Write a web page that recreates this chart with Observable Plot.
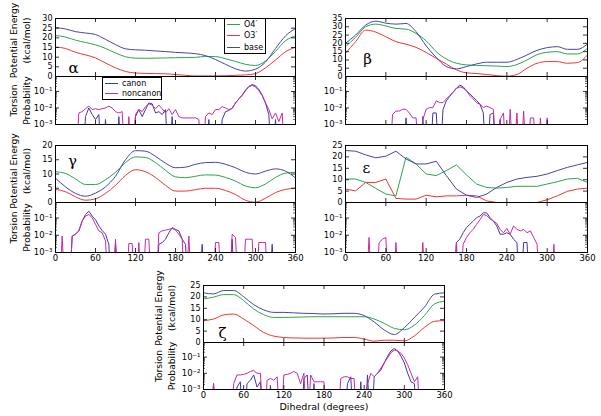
<!DOCTYPE html>
<html><head><meta charset="utf-8">
<script src="https://cdn.jsdelivr.net/npm/d3@7"></script>
<script src="https://cdn.jsdelivr.net/npm/@observablehq/plot@0.6"></script>
<style>
body{margin:0;background:#fff}
#chart{position:relative;width:601px;height:416px;overflow:hidden;font-family:"DejaVu Sans",sans-serif}
#chart svg{position:absolute;left:0;top:0}
</style></head><body><div id="chart"></div>
<script>
// ---------- data ----------
const xTicks = [0, 60, 120, 180, 240, 300, 360];
const energyDeg = [0,15,30,45,60,75,90,105,120,135,150,165,180,195,210,225,240,255,270,285,300,315,330,345,360];
const probDeg = d3.range(0, 361, 5);
const probTicks = [0.001, 0.01, 0.1];
const probTickLabels = ["10\u207B\u00B3", "10\u207B\u00B2", "10\u207B\u00B9"];
const energySeries = ["O4\u2032", "O3\u2032", "base"];
const energyColors = ["#2aa64a", "#ee3535", "#4545aa"];
const probSeries = ["canon", "noncanon"];
const probColors = ["#3a3ab0", "#cc2aa2"];

const alphaETicks = [0,5,10,15,20,25,30];
const betaETicks = [0,5,10,15,20,25,30,35];
const gammaETicks = [0,5,10,15,20];
const epsETicks = [0,5,10,15,20,25];
const zetaETicks = [0,5,10,15,20,25];

const alphaO4 = [21.2,20.4,18.8,17.6,16.4,14.5,12.2,10.2,9.5,9.4,9.5,9.6,9.7,9.8,9.9,10.4,10.3,9.2,7.8,6.3,5.7,8,13,18.5,21];
const alphaO3 = [15.3,14.5,12.5,11.2,9.6,7,4.5,2.6,1.8,1.6,1.5,1.4,1,0.6,0.3,0.3,0.3,0.4,0.6,0.8,1.5,4.5,8.5,12.8,15.1];
const alphaBase = [25.3,24.6,23.2,22.5,21.7,19.2,16.5,14.3,13.8,13.6,13.2,12.9,12.5,12.2,11.8,10.8,8.8,6.3,4,2.8,3.8,7.5,14.5,21,24.8];

const betaO4 = [18,23.6,30,31.6,30.5,29,28.6,26,21.5,15,10.5,8,7,6.7,6.5,6.3,6,7.2,10,13.2,14.6,15,13.6,13.6,17];
const betaO3 = [14,21,28,26.8,24,21,19.5,17.6,14.5,11,7.5,4,2.2,1.8,1.2,0.5,0.2,1.2,5,8,9,9,8,8.4,13];
const betaBase = [20,25,31,33.4,32.2,31.6,32,27,18.5,11.5,6,4.6,6,7.6,8.6,8.6,8.6,10.3,13,15.8,17.4,18,16.4,16.4,19.6];

const gammaO4 = [10.8,10.2,8.3,6.3,6.3,8,10.6,14,16,15.8,14,11.3,9,8.7,9.2,9.7,9.6,8.8,7.5,5.8,5.2,6.5,8.8,10.3,10.6];
const gammaO3 = [4.6,3.8,2,0.8,1.3,3.2,6,9.5,11.5,10.8,8.8,6,4,4,4.5,5,5,4.2,2.8,0.8,0.1,1.5,3.5,4.6,5];
const gammaBase = [8.5,5.5,3.2,2.2,3.3,5.5,9.2,15,18.2,18,16.2,13.8,12.2,12.4,13.4,14,14.1,13.4,12.2,10.6,10,11,11.8,11,8.6];

const epsO4 = [10.3,10.3,8.8,6.2,3.7,2.9,19.9,16.9,12.5,11.8,14,16.5,12.1,8.1,6.6,6.3,6.6,7.1,7.1,7.1,8.1,9.1,10.3,10.6,8.8];
const epsO3 = [5.9,5.1,8.8,8.8,10.3,1.8,1.5,1.5,3.2,2.5,2.9,2.9,3.2,2.9,0.7,0,0,0,0,0,1.2,2.9,4.9,5.9,6.3];
const epsBase = [22.8,22.5,20.9,19.6,20.3,22.5,19.1,16.9,16.9,18.1,11.8,5.9,3.2,2.2,3.7,6.6,8.8,10.3,11,11.5,12.5,14,15.4,16.5,17.6];

const zetaO4 = [19.1,19.9,21,21,18.4,14.7,12.2,11,11,11.1,11.2,11.3,11.3,11.3,11.3,11.3,11.3,10.3,8.4,6.2,5.6,7.6,11.8,16.9,18.1];
const zetaO3 = [9.6,10.3,12.1,12.5,10.3,7.4,4.4,2.8,2.2,2,1.9,1.9,1.9,2,2.2,2.2,1.5,0.6,1,1,0.7,2.9,6.6,9.3,9.6];
const zetaBase = [21.8,21.3,22.8,22.8,20.1,16.6,14.3,13.2,13.2,13,12.8,12.7,12.5,12.6,12.8,12.8,11.8,9,5.5,3.5,6.5,11,15.5,21.2,21.8];

const alphaCanon = [0,0,0,0,0,0,0,0,0,.003,.01,.004,
 .002,.004,0,.002,0,0,0,.003,0,0,0,0,
 .003,.008,.003,.008,.02,.018,.005,.006,.004,.008,0,.003,
 0,0,0,0,0,0,0,0,0,0,.002,0,
 0,0,.002,.006,.007,.01,.02,.035,.06,.12,.2,.26,
 .22,.13,.06,.02,.004,0,.002,0,0,0,0,0,
 0];
const alphaNoncanon = [0,0,0,0,0,0,0,.005,.006,.009,.013,.008,
 .009,.008,.009,.01,.013,.01,.006,.005,.006,0,.003,0,
 .004,.008,.006,.012,.018,.015,.009,.015,.009,.005,.009,.004,
 .008,.003,.0025,.0025,.0025,.0025,.0025,.002,0,.003,.005,.004,
 .008,.008,.012,.01,.008,.009,.02,.035,.056,.11,.19,.23,
 .19,.11,.056,.02,.008,.0022,.005,.0015,.005,0,0,0,
 0];
const betaCanon = [0,0,0,0,0,0,0,0,0,0,0,0,
 0,0,0,0,0,0,.0025,0,0,0,0,.003,
 0,0,.005,.005,0,.008,.027,.05,.09,.16,.24,.19,
 .11,.07,.045,.028,.017,.005,0,.004,.005,0,.002,0,
 0,0,0,0,0,0,0,0,0,0,0,0,
 0,0,0,0,0,0,0,0,0,0,0,0,
 0];
const betaNoncanon = [0,0,0,0,0,0,0,0,0,0,0,0,
 0,0,.004,.0065,.0065,.0083,.0083,.005,.0025,.0025,0,.002,
 .0083,.0105,.0105,.027,.021,.021,.035,.056,.09,.15,.19,.16,
 .11,.056,.035,.021,.017,.0105,.013,.0105,.0083,0,.002,.005,
 0,.0083,0,.005,0,.0065,0,.0025,.0025,0,.0025,0,
 .0025,0,0,0,0,0,0,0,0,0,0,0,
 0];
const gammaCanon = [0,0,0,0,0,.009,.0115,.018,.067,.16,.25,.13,
 .08,.035,.019,.0115,.003,0,.003,0,0,0,0,0,
 0,0,0,0,0,0,0,.003,.0038,.0059,.014,.028,
 .022,.018,.0059,.003,0,0,0,0,.003,0,0,0,
 0,0,0,0,0,.0059,0,0,0,0,0,0,
 0,0,0,0,0,.003,0,0,0,0,0,0,
 0];
const gammaNoncanon = [0,0,.009,0,0,.009,.0115,.018,.067,.13,.16,.105,
 .043,.018,.014,.0047,0,0,.0059,0,0,0,.0033,.0033,
 0,.0038,0,.0059,.0059,0,0,.014,.018,.02,.022,.025,
 .02,.0115,.0059,0,.009,0,0,0,0,0,0,0,
 .0038,.0038,0,0,0,.0115,.0074,0,0,.0059,.0059,.0059,
 0,.0038,.0038,.0038,0,0,0,0,0,0,0,0,
 0];
const epsCanon = [0,0,0,0,0,0,0,0,0,0,0,0,
 0,0,0,0,0,0,0,0,0,0,0,0,
 0,0,0,0,0,0,0,0,0,.0038,.0059,.014,
 .028,.043,.067,.105,.13,.2,.2,.105,.067,.035,.0115,.0115,
 .014,.0115,.0059,.0038,0,.0038,.0038,0,0,0,0,0,
 0,0,0,0,0,0,0,0,0,0,0,0,
 0];
const epsNoncanon = [0,0,0,0,0,0,0,.0074,0,0,.0038,.0059,
 .0074,0,0,.0038,0,0,0,0,0,0,0,.0038,
 0,0,0,0,0,0,0,0,0,.0038,0,.003,
 .0074,.014,.022,.043,.08,.16,.14,.09,.065,.05,.022,.014,
 .025,.0115,.035,.022,.018,.022,.014,.018,.0074,.003,0,0,
 0,0,.003,0,0,0,0,0,0,0,0,0,
 0];
const zetaCanon = [0,0,0,.0023,0,0,0,0,0,0,.0014,.003,
 0,.0023,.0037,.0079,.0014,.003,0,0,.0018,0,0,0,
 0,0,0,0,0,0,.0048,.0079,0,.0023,0,0,
 0,0,0,0,0,0,0,.0023,.0061,0,0,.003,
 0,.0079,0,.0061,.01,.016,.044,.115,.24,.34,.24,.115,
 .044,.01,.003,.0023,0,0,0,0,0,0,0,0,
 0];
const zetaNoncanon = [0,0,0,.0023,0,0,0,0,0,.0023,.0079,.0079,
 .0085,.01,.013,.015,.01,.01,0,.0037,.0048,.0037,.0061,0,
 .0079,.0085,.01,.013,.01,.0023,.01,0,.0079,.003,.003,.003,
 .003,0,0,0,0,.0048,.0061,.0061,.0048,.0048,0,0,
 0,.0023,.01,.0061,.01,.021,.044,.09,.19,.27,.24,.17,
 .09,.034,.01,.003,.0061,0,0,0,0,0,0,0,
 0];

// ---------- layout ----------
const W = 601, H = 416;
const panels = [
  {greek:"\u03B1", x0:55, x1:295, eTop:18, eBot:76, pBot:124, eTicks:alphaETicks, E:[alphaO4,alphaO3,alphaBase], P:[alphaCanon,alphaNoncanon], curve:"monotone-x", labels:true, xLabels:false, gx:18, gy:50, lblDx:-35, lblDyE:-7},
  {greek:"\u03B2", x0:345, x1:587, eTop:18, eBot:76, pBot:124, eTicks:betaETicks, E:[betaO4,betaO3,betaBase], P:[betaCanon,betaNoncanon], curve:"monotone-x", labels:false, xLabels:false, gx:22, gy:41},
  {greek:"\u03B3", x0:55, x1:295, eTop:145, eBot:202, pBot:252, eTicks:gammaETicks, E:[gammaO4,gammaO3,gammaBase], P:[gammaCanon,gammaNoncanon], curve:"monotone-x", labels:true, xLabels:true, gx:17, gy:16, lblDx:-35, lblDyE:-3},
  {greek:"\u03B5", x0:345, x1:587, eTop:145, eBot:202, pBot:252, eTicks:epsETicks, E:[epsO4,epsO3,epsBase], P:[epsCanon,epsNoncanon], curve:"linear", labels:false, xLabels:true, gx:21, gy:23},
  {greek:"\u03B6", x0:203, x1:444, eTop:285, eBot:342, pBot:389, eTicks:zetaETicks, E:[zetaO4,zetaO3,zetaBase], P:[zetaCanon,zetaNoncanon], curve:"monotone-x", labels:true, xLabels:true, gx:19, gy:48, lblDx:-38, lblDyE:-6, xTitle:"Dihedral (degrees)"}
];

const style = {background:"none", fontFamily:"'DejaVu Sans', sans-serif", fontSize:"8.5px", overflow:"visible", color:"black"};
const chart = document.getElementById("chart");
const minorTicks = [];
[0.001,0.01,0.1].forEach(b => [2,3,4,5,6,7,8,9].forEach(m => { if (b*m < 0.8) minorTicks.push(b*m); }));

function frameTicks(fw, fh, yt, ylen) {
  return [
    Plot.tickX(xTicks, {x: d => d, insetTop: fh - 4, stroke: "black", strokeWidth: 0.8}),
    Plot.tickX(xTicks, {x: d => d, insetBottom: fh - 4, stroke: "black", strokeWidth: 0.8}),
    Plot.tickY(yt, {y: d => d, insetRight: fw - ylen, stroke: "black", strokeWidth: 0.8}),
    Plot.tickY(yt, {y: d => d, insetLeft: fw - ylen, stroke: "black", strokeWidth: 0.8})
  ];
}
function vlabel(lines, dx, dy) {
  return lines.map((t, i) => Plot.text([t], {frameAnchor: "left", dx: dx + (i - (lines.length - 1) / 2) * 13, dy, rotate: -90, textAnchor: "middle", lineAnchor: "middle", text: d => d, fontSize: 9.2}));
}

panels.forEach(p => {
  const fw = p.x1 - p.x0;
  // energy subplot
  const eData = [];
  p.E.forEach((arr, k) => energyDeg.forEach((d, i) => eData.push({deg: d, e: arr[i], s: energySeries[k]})));
  const eh = p.eBot - p.eTop;
  const eMarks = [
    Plot.line(eData, {x: "deg", y: "e", z: "s", stroke: "s", strokeWidth: 1, curve: p.curve, clip: true}),
    ...frameTicks(fw, eh, p.eTicks, 4),
    Plot.axisY(p.eTicks, {tickSize: 0, tickPadding: 3, label: null, fontSize: 8}),
    Plot.frame({stroke: "black", strokeWidth: 1}),
    Plot.text([p.greek], {frameAnchor: "top-left", dx: p.gx, dy: p.gy, textAnchor: "middle", lineAnchor: "middle", text: d => d, fontSize: 15, fontFamily: "'DejaVu Serif', serif"})
  ];
  if (p.labels) eMarks.push(...vlabel(["Potential Energy", "(kcal/mol)"], p.lblDx, p.lblDyE));
  chart.appendChild(Plot.plot({
    width: W, height: H, marginLeft: p.x0, marginRight: W - p.x1, marginTop: p.eTop, marginBottom: H - p.eBot,
    x: {domain: [0, 360], axis: null}, y: {domain: [p.eTicks[0], p.eTicks[p.eTicks.length - 1]], label: null},
    color: {domain: energySeries, range: energyColors},
    style, marks: eMarks
  }));

  // probability subplot
  const pData = [];
  p.P.forEach((arr, k) => probDeg.forEach((d, i) => pData.push({deg: d, p: arr[i] > 0 ? arr[i] : 1e-6, s: probSeries[k]})));
  const ph = p.pBot - p.eBot;
  const pMarks = [
    Plot.line(pData, {x: "deg", y: "p", z: "s", stroke: "s", strokeWidth: 1, clip: true}),
    ...frameTicks(fw, ph, probTicks, 4),
    Plot.tickY(minorTicks, {y: d => d, insetRight: fw - 2, stroke: "black", strokeWidth: 0.6}),
    Plot.tickY(minorTicks, {y: d => d, insetLeft: fw - 2, stroke: "black", strokeWidth: 0.6}),
    Plot.axisY(probTicks, {tickSize: 0, tickPadding: 3, label: null, tickFormat: d => probTickLabels[probTicks.indexOf(d)]}),
    Plot.frame({stroke: "black", strokeWidth: 1})
  ];
  if (p.xLabels) pMarks.push(Plot.axisX(xTicks, {tickSize: 0, tickPadding: 2, label: null}));
  if (p.labels) pMarks.push(...vlabel(["Torsion", "Probability"], p.lblDx, 0));
  if (p.xTitle) pMarks.push(Plot.text([p.xTitle], {frameAnchor: "bottom", dy: 17, textAnchor: "middle", lineAnchor: "middle", text: d => d, fontSize: 9.5}));
  chart.appendChild(Plot.plot({
    width: W, height: H, marginLeft: p.x0, marginRight: W - p.x1, marginTop: p.eBot, marginBottom: H - p.pBot,
    x: {domain: [0, 360], axis: p.xLabels ? undefined : null}, y: {type: "log", domain: [0.001, 0.8], label: null},
    color: {domain: probSeries, range: probColors},
    style, marks: pMarks
  }));
});

// ---------- legends ----------
function legend(labels, colors, left, top, w, h, rowH, padTop) {
  const div = document.createElement("div");
  div.style.cssText = `position:absolute;left:${left}px;top:${top}px;width:${w}px;height:${h}px;border:1px solid #000;background:#fff;box-sizing:border-box;font:8px 'DejaVu Sans',sans-serif;`;
  labels.forEach((label, i) => {
    const row = document.createElement("div");
    row.style.cssText = `position:absolute;left:2px;top:${padTop + i * rowH}px;height:${rowH}px;display:flex;align-items:center;white-space:nowrap;`;
    row.innerHTML = `<span style="display:inline-block;width:13px;height:0;border-top:1px solid ${colors[i]};margin-right:4px"></span>${label}`;
    div.appendChild(row);
  });
  chart.appendChild(div);
}
legend(energySeries, energyColors, 224, 18, 42, 36, 11.5, -0.5);
legend(probSeries, probColors, 102, 77, 60, 23, 10.5, 0);
</script></body></html>
